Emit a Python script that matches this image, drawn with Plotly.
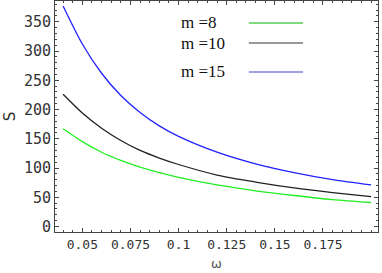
import plotly.graph_objects as go

omega = [0.04, 0.05, 0.06, 0.07, 0.08, 0.09, 0.1, 0.12, 0.14, 0.16, 0.18, 0.2]
s_m8 = [167, 145, 127, 113, 101.5, 92, 84, 71, 61, 53, 46, 41]
s_m10 = [226, 194, 168, 147, 130, 117, 106, 88, 76, 66, 58, 51]
s_m15 = [377, 312, 262, 224, 195, 172, 154, 127, 107, 92, 80, 71]

legend_labels = ["m =8", "m =10", "m =15"]
legend_colors = ["#55cc55", "#777777", "#8080e0"]
curve_colors = ["#22ee22", "#202020", "#2222ff"]

x_ticks = [0.05, 0.075, 0.1, 0.125, 0.15, 0.175]
x_ticktext = ["0.05", "0.075", "0.1", "0.125", "0.15", "0.175"]
y_ticks = [0, 50, 100, 150, 200, 250, 300, 350]

fig = go.Figure()
for ys, c in zip([s_m8, s_m10, s_m15], curve_colors):
    fig.add_trace(go.Scatter(x=omega, y=ys, mode="lines",
                             line=dict(color=c, width=1.3, shape="spline", smoothing=0.8),
                             showlegend=False, hoverinfo="skip"))

axis_common = dict(showline=True, linecolor="#444", linewidth=1, mirror="allticks",
                   ticks="inside", ticklen=4, tickcolor="#444", showgrid=False,
                   zeroline=False, automargin=False)
fig.update_xaxes(range=[0.0358, 0.2036], tickvals=x_ticks, ticktext=x_ticktext,
                 tickfont=dict(family="DejaVu Sans Mono", size=13, color="#333"),
                 minor=dict(dtick=0.005, tick0=0.0, ticks="inside", ticklen=2, tickcolor="#444"),
                 title=dict(text="ω", font=dict(family="DejaVu Sans", size=13, color="#555"), standoff=8),
                 **axis_common)
fig.update_yaxes(range=[-9.4, 385.5], tickvals=y_ticks,
                 tickfont=dict(family="DejaVu Sans Mono", size=15, color="#333"),
                 minor=dict(dtick=10, tick0=0, ticks="inside", ticklen=2, tickcolor="#444"),
                 title=dict(text="S", font=dict(family="DejaVu Sans", size=15, color="#333"), standoff=4),
                 **axis_common)

leg_y = [0.905, 0.818, 0.693]
for lab, col, yy in zip(legend_labels, legend_colors, leg_y):
    fig.add_annotation(x=0.384, y=yy, xref="paper", yref="paper", text=lab,
                       showarrow=False, xanchor="left", yanchor="middle",
                       font=dict(family="Liberation Serif", size=17, color="#111"))
    fig.add_shape(type="line", xref="paper", yref="paper", x0=0.6, x1=0.768,
                  y0=yy, y1=yy, line=dict(color=col, width=1.5))

fig.update_layout(width=382, height=273, margin=dict(l=55, r=4, t=1, b=41),
                  plot_bgcolor="white", paper_bgcolor="white")
fig.write_html("out.html", config={"displayModeBar": False},
               post_script="document.body.style.margin='0';")
